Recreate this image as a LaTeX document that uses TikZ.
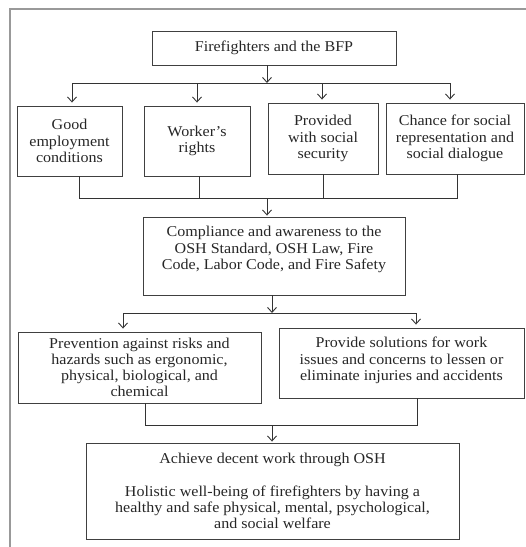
\documentclass[tikz,border=0pt]{standalone}
\usepackage{fontspec}
\setmainfont{Liberation Serif}[FakeStretch=1.07]
\usetikzlibrary{arrows.meta,calc}
\begin{document}
\begin{tikzpicture}[x=1pt,y=-1pt,
  box/.style={draw=black!75,line width=0.9pt,align=center,inner sep=0pt,
    font=\fontsize{15}{16.2}\selectfont,text=black!85},
  conn/.style={draw=black!80,line width=0.9pt},
  arr/.style={conn,-{Straight Barb[length=5pt,width=9pt,line width=0.9pt]},shorten >=3pt}]
\useasboundingbox (0,0) rectangle (526,547);
\draw[black!40,line width=1.2pt] (10,547) -- (10,9) -- (526,9);
% boxes
\node[box,minimum width=244,minimum height=34] (top) at (274,48) {Firefighters and the BFP};
\node[box,minimum width=105,minimum height=70] (b1) at (69.5,141) {Good\\employment\\conditions};
\node[box,minimum width=106,minimum height=70] (b2) at (197,141) {Worker's\\rights};
\node[box,minimum width=110,minimum height=71] (b3) at (323,138.5) {Provided\\with social\\security};
\node[box,minimum width=138,minimum height=71] (b4) at (455,138.5) {Chance for social\\representation and\\social dialogue};
\node[box,minimum width=262,minimum height=78] (comp) at (274,256) {Compliance and awareness to the\\OSH Standard, OSH Law, Fire\\Code, Labor Code, and Fire Safety\\\mbox{}};
\node[box,minimum width=243,minimum height=71] (prev) at (139.5,367.5) {Prevention against risks and\\hazards such as ergonomic,\\physical, biological, and\\chemical};
\node[box,minimum width=245,minimum height=70] (sol) at (401.5,363) {Provide solutions for work\\issues and concerns to lessen or\\eliminate injuries and accidents\\[-8pt]\mbox{}};
\node[box,minimum width=373,minimum height=96] (fin) at (272.5,491) {Achieve decent work through OSH\\[16pt]Holistic well-being of firefighters by having a\\healthy and safe physical, mental, psychological,\\and social welfare};
% junction coordinates
\coordinate (h1) at (267,83);
\coordinate (a1) at (72,83);
\coordinate (a2) at (197,83);
\coordinate (a3) at (322,83);
\coordinate (a4) at (450,83);
\coordinate (j1) at (79,198);
\coordinate (j2) at (199,198);
\coordinate (j3) at (323,198);
\coordinate (j4) at (457,198);
\coordinate (jm) at (267,198);
\coordinate (k0) at (272,313);
\coordinate (k1) at (123,313);
\coordinate (k2) at (416,313);
\coordinate (m1) at (145,425);
\coordinate (m2) at (417,425);
\coordinate (mm) at (272,425);
% connectors
\draw[arr,shorten >=0pt] (h1 |- top.south) -- (h1);
\draw[conn] (a1) -- (a4);
\draw[arr] (a1) -- (a1 |- b1.north);
\draw[arr] (a2) -- (a2 |- b2.north);
\draw[arr] (a3) -- (a3 |- b3.north);
\draw[arr] (a4) -- (a4 |- b4.north);
\draw[conn] (j1 |- b1.south) -- (j1) -- (j4) -- (j4 |- b4.south);
\draw[conn] (j2 |- b2.south) -- (j2);
\draw[conn] (j3 |- b3.south) -- (j3);
\draw[arr,shorten >=1pt] (jm) -- (jm |- comp.north);
\draw[arr,shorten >=0pt] (k0 |- comp.south) -- (k0);
\draw[conn] (k1) -- (k2);
\draw[arr] (k1) -- (k1 |- prev.north);
\draw[arr] (k2) -- (k2 |- sol.north);
\draw[conn] (m1 |- prev.south) -- (m1) -- (m2) -- (m2 |- sol.south);
\draw[arr,shorten >=1pt] (mm) -- (mm |- fin.north);
\end{tikzpicture}
\end{document}
